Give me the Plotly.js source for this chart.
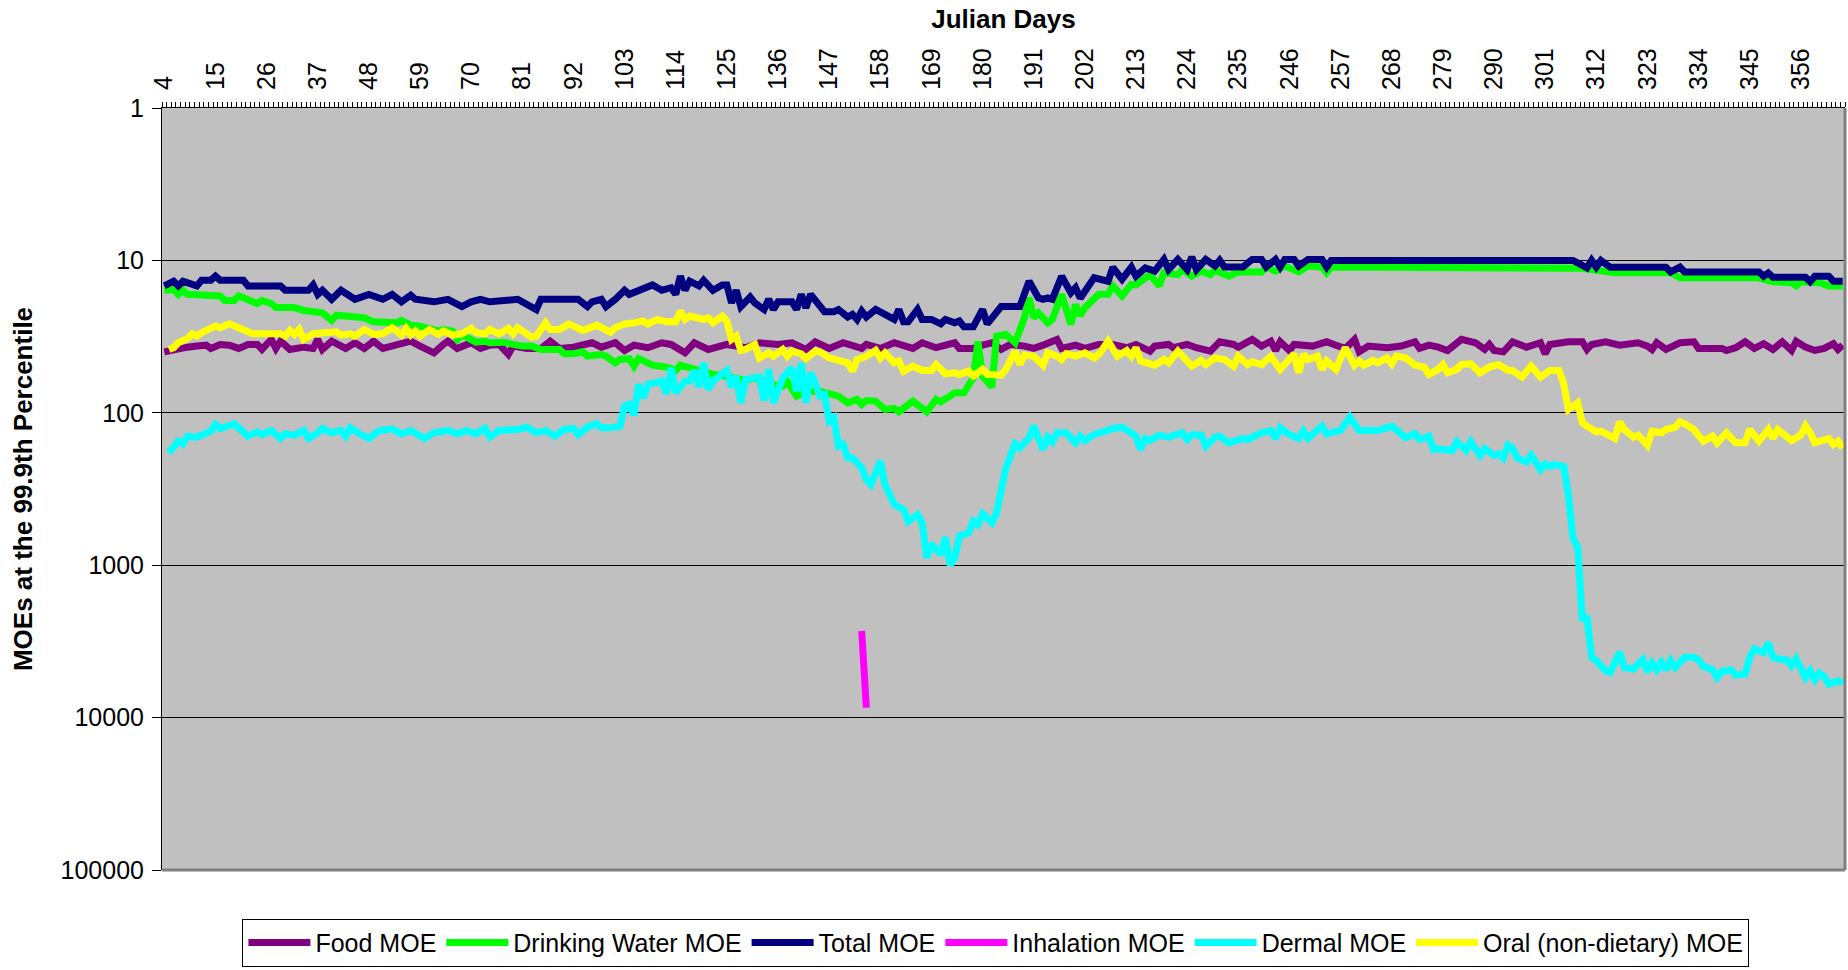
<!DOCTYPE html>
<html>
<head>
<meta charset="utf-8">
<script src="https://cdn.plot.ly/plotly-3.0.1.min.js"></script>
<style>html,body{margin:0;padding:0;background:#fff;}#chart{width:1848px;height:970px;}</style>
</head>
<body>
<div id="chart"></div>
<script>
// [Julian day, MOE] pairs
const foodMOE = [[4,39.8],[6,38.4],[9,37.1],[11,36.5],[13,36.0],[14,37.8],[16,35.6],[18,36.0],[20,37.8],[22,35.6],[24,35.6],[25,38.4],[27,33.0],[28,37.8],[29,33.9],[31,38.4],[34,37.1],[36,37.8],[37,33.0],[38,38.4],[40,33.9],[43,37.8],[45,34.7],[47,37.8],[49,33.9],[51,37.8],[54,36.0],[57,33.9],[59,36.5],[62,40.4],[64,35.6],[65,33.9],[67,37.8],[70,34.7],[72,37.8],[74,36.0],[76,35.6],[78,41.4],[79,36.5],[82,37.8],[85,37.8],[87,33.9],[89,37.8],[92,37.1],[96,34.7],[98,37.1],[101,34.7],[103,39.0],[105,36.0],[108,37.4],[111,34.7],[113,35.6],[116,40.4],[118,34.7],[121,38.4],[125,35.6],[129,37.4],[132,34.7],[136,35.6],[139,34.7],[142,38.4],[144,34.2],[147,37.8],[150,34.7],[154,37.8],[155,35.6],[158,37.8],[161,34.7],[165,37.8],[167,34.7],[170,37.4],[174,34.7],[175,37.8],[178,37.8],[180,36.0],[182,34.7],[184,38.4],[186,35.6],[189,36.5],[191,37.8],[193,36.0],[196,33.0],[197,37.8],[200,36.0],[202,37.8],[205,35.6],[208,35.6],[211,37.4],[213,35.6],[216,39.4],[217,36.5],[220,35.6],[221,37.4],[224,35.6],[226,37.4],[229,39.4],[231,34.2],[234,35.6],[235,37.1],[238,33.0],[240,36.5],[242,33.9],[243,39.0],[244,34.2],[246,39.0],[247,35.6],[251,36.5],[254,34.2],[256,36.0],[258,37.8],[260,33.0],[261,39.8],[263,36.5],[267,37.4],[270,36.5],[273,34.2],[274,37.8],[276,36.0],[278,37.1],[280,39.0],[283,33.0],[286,34.7],[288,38.4],[289,35.6],[290,39.0],[292,39.8],[294,34.2],[297,37.1],[300,34.7],[301,41.0],[302,35.6],[306,34.2],[309,34.2],[310,38.4],[311,35.6],[314,34.2],[317,36.0],[321,34.7],[323,36.5],[324,38.4],[325,34.7],[327,38.4],[330,34.7],[333,34.2],[334,37.8],[339,37.8],[340,39.0],[342,37.4],[344,34.2],[346,37.8],[348,35.2],[350,38.4],[352,34.2],[354,39.0],[355,33.9],[357,37.1],[359,39.0],[361,37.8],[363,35.2],[364,38.4],[365,36.0]];

const drinkingWaterMOE = [[4,15.7],[6,15.5],[7,16.7],[8,15.7],[9,16.7],[16,17.1],[17,18.3],[19,18.3],[20,17.1],[22,18.3],[24,19.2],[25,18.3],[27,19.2],[28,20.4],[32,20.4],[34,21.3],[37,21.5],[38,22.1],[40,24.8],[41,22.9],[43,23.2],[45,23.6],[47,23.8],[49,25.3],[52,25.3],[54,25.7],[55,24.8],[57,26.6],[59,27.0],[61,28.4],[63,29.1],[64,28.4],[66,29.1],[67,33.0],[68,30.9],[69,31.9],[71,34.4],[73,33.9],[74,34.7],[77,34.4],[78,35.2],[79,35.6],[81,36.5],[83,36.5],[85,38.4],[89,38.4],[90,41.0],[92,41.0],[94,39.8],[95,42.5],[98,41.5],[99,42.5],[101,47.0],[102,44.7],[104,44.2],[105,49.4],[106,44.0],[109,48.7],[112,50.1],[114,52.7],[115,48.7],[118,51.9],[119,53.8],[122,56.0],[125,57.5],[129,61.3],[131,58.9],[134,65.2],[137,66.8],[138,62.6],[140,77.7],[142,72.1],[145,72.1],[148,75.8],[149,77.7],[151,86.0],[153,81.7],[154,88.2],[155,83.0],[157,83.8],[159,95.1],[161,93.7],[162,98.5],[165,83.8],[168,98.5],[170,81.7],[171,84.7],[173,77.7],[174,73.9],[176,73.9],[178,58.9],[179,34.0],[180,57.5],[182,67.8],[183,31.4],[185,30.6],[186,33.0],[187,34.7],[189,23.8],[190,17.6],[191,23.8],[192,22.1],[194,25.7],[195,24.4],[197,16.7],[199,26.3],[200,19.5],[201,23.0],[202,20.45],[204,17.6],[205,16.7],[207,16.7],[208,14.7],[210,17.1],[212,14.4],[213,14.5],[216,12.4],[218,14.7],[219,12.05],[222,12.4],[223,11.5],[225,12.7],[227,11.75],[229,12.4],[230,11.6],[233,12.7],[235,11.9],[240,11.9],[241,11.06],[243,11.75],[245,10.9],[248,11.9],[250,10.9],[253,11.06],[254,12.05],[255,11.06],[308,11.06],[309,11.28],[316,12.05],[328,12.05],[330,13.0],[347,13.0],[350,13.8],[354,14.0],[355,14.7],[356,13.8],[360,14.0],[362,14.7],[365,14.7]];

const totalMOE = [[4,14.7],[6,13.7],[7,14.7],[8,13.7],[11,14.7],[12,13.5],[14,13.5],[15,12.7],[16,13.5],[21,13.5],[22,14.7],[29,14.7],[30,15.7],[35,15.7],[36,14.5],[37,16.7],[38,15.7],[40,18.0],[42,15.7],[45,18.0],[48,16.7],[51,18.0],[53,16.7],[55,18.7],[57,16.9],[58,18.0],[62,18.7],[65,18.0],[68,20.1],[70,18.7],[72,18.0],[74,18.7],[80,18.0],[82,19.5],[84,21.0],[85,18.0],[93,18.0],[95,20.1],[96,18.7],[98,18.0],[99,20.1],[101,18.0],[103,15.7],[104,16.7],[106,15.7],[109,14.5],[111,15.7],[113,15.1],[114,16.7],[115,12.7],[116,15.7],[117,13.7],[119,14.7],[120,13.5],[122,15.7],[124,14.5],[125,14.5],[126,19.0],[127,15.7],[128,20.1],[130,17.4],[131,19.0],[133,21.0],[134,18.0],[135,21.0],[136,18.7],[139,18.7],[140,21.0],[141,16.7],[142,20.5],[143,16.7],[146,21.7],[148,21.7],[149,21.0],[151,23.5],[152,22.6],[153,24.4],[154,21.5],[155,23.5],[157,21.0],[159,22.6],[161,24.4],[162,21.0],[163,25.3],[164,25.3],[166,21.0],[167,24.4],[169,24.4],[171,26.1],[172,24.4],[174,25.7],[175,25.0],[176,27.3],[178,27.3],[180,21.0],[181,26.1],[184,20.1],[188,20.1],[190,13.7],[192,17.6],[193,18.0],[194,17.6],[195,18.0],[197,12.7],[199,16.3],[200,15.1],[201,17.7],[202,15.9],[204,13.0],[207,13.7],[208,11.1],[210,13.3],[212,11.1],[213,12.7],[215,11.2],[217,11.75],[219,9.85],[220,11.5],[222,9.85],[224,11.5],[225,9.5],[226,11.5],[228,9.85],[230,10.9],[231,10.0],[232,11.06],[236,11.06],[238,9.85],[240,9.85],[241,11.06],[243,9.85],[244,11.06],[245,9.85],[247,9.85],[248,10.9],[250,9.85],[253,9.85],[254,11.06],[255,10.0],[307,10.0],[310,11.2],[311,10.0],[312,11.06],[313,10.0],[315,11.1],[327,11.1],[328,11.9],[330,11.06],[331,11.9],[347,11.9],[348,12.7],[349,12.1],[350,12.9],[357,12.9],[358,13.8],[359,12.7],[362,12.7],[363,13.7],[365,13.7]];

const inhalationMOE = [[154,2700],[155,8600]];

const dermalMOE = [[5,183],[7,153.5],[8,160],[9,142.3],[11,144.5],[13,133.3],[14,131.9],[15,119.3],[16,126.7],[19,118.1],[20,125.5],[22,142.3],[24,133.3],[25,138.8],[27,130.6],[29,147.4],[30,137.4],[32,140.2],[34,130.6],[35,147.4],[37,135.3],[38,126.7],[40,135.3],[42,130.6],[43,142.3],[44,125.5],[46,137.4],[48,147.4],[50,131.9],[53,127.4],[55,137.4],[57,130.6],[60,147.4],[62,135.3],[65,130.6],[67,137.4],[69,130.6],[71,137.4],[73,126.7],[74,144.5],[76,130.6],[80,128.7],[82,124.2],[84,135.3],[86,130.6],[88,142.3],[90,128.7],[92,126.7],[93,138.8],[95,124.2],[97,118.1],[98,125.5],[100,125.5],[102,122.3],[103,89.8],[104,88.0],[105,103.6],[106,65.2],[107,79.7],[108,65.2],[111,61.9],[112,75.0],[113,50.7],[114,73.9],[116,62.0],[117,61.9],[118,52.7],[119,67.8],[120,47.0],[121,70.3],[122,61.9],[125,52.7],[126,67.8],[127,57.5],[128,86.0],[129,60.4],[132,58.3],[133,83.0],[134,51.9],[135,86.0],[137,58.9],[139,50.7],[140,72.1],[141,47.0],[142,86.0],[143,54.6],[144,63.5],[145,77.7],[146,75.8],[147,113.4],[148,107.8],[149,165.5],[150,161.4],[151,197.4],[152,197.4],[154,229.6],[155,274.0],[156,295.5],[158,207.6],[159,295.5],[161,399.9],[163,431.1],[164,514.4],[166,465.0],[167,527.5],[168,895],[169,724],[171,851],[172,655],[173,1000],[174,895],[175,645],[177,613],[178,514],[179,541],[180,460],[182,527],[183,453],[185,230],[187,159.8],[188,169.8],[190,145.9],[191,122.3],[193,174.1],[194,144.5],[195,155.0],[196,135.3],[198,135.3],[200,157.4],[201,142.3],[202,151.9],[204,138.8],[206,133.3],[208,126.7],[210,124.2],[213,142.3],[214,174.1],[215,147.4],[216,151.9],[218,140.2],[220,144.5],[223,135.3],[224,149.6],[225,138.8],[227,140.2],[228,165.5],[230,144.5],[231,142.3],[233,157.4],[236,147.4],[237,149.6],[240,135.3],[242,130.6],[243,147.4],[244,125.5],[246,138.8],[248,147.4],[249,131.9],[250,147.4],[253,122.3],[254,137.4],[257,130.6],[259,106.8],[261,130.6],[265,130.6],[268,122.3],[271,145.9],[273,137.4],[274,149.6],[276,142.3],[277,174.1],[278,172],[281,177],[282,155],[284,177],[285,155],[287,190],[288,172],[290,190],[291,186],[292,198],[293,163],[294,170],[295,198],[297,210],[298,190],[300,236],[301,217],[302,225],[303,219],[305,225],[306,346],[307,667],[308,757],[309,2305],[310,2158],[311,4021],[312,4230],[314,4923],[315,5050],[317,3727],[318,4680],[320,4800],[322,4166],[323,5000],[324,4383],[325,4849],[326,4339],[327,4849],[328,4230],[329,4680],[331,4021],[333,4021],[334,4166],[335,4610],[337,4849],[338,5449],[339,5000],[341,4849],[342,5260],[344,5180],[345,4021],[346,3544],[348,3727],[349,3235],[350,4021],[352,4166],[353,4166],[354,4563],[355,4124],[357,5449],[358,4923],[359,5645],[360,5102],[361,5367],[362,6029],[363,5878],[364,5731],[365,5938]];

const oralMOE = [[5,38.4],[6,37.4],[7,34.7],[9,32.5],[10,30.3],[11,31.4],[12,29.8],[15,27.0],[16,27.7],[18,26.1],[20,27.7],[21,28.4],[23,30.3],[29,30.3],[30,31.4],[31,28.8],[32,30.6],[33,28.4],[34,33.0],[36,30.3],[41,29.4],[42,30.9],[44,30.3],[45,31.4],[47,28.4],[49,30.6],[51,30.3],[53,27.7],[55,30.9],[56,27.95],[57,30.9],[58,29.1],[59,31.4],[61,28.4],[63,30.6],[64,29.1],[66,30.9],[68,30.3],[70,27.95],[71,29.8],[73,30.3],[74,28.4],[76,30.3],[78,27.95],[79,30.3],[80,27.7],[83,31.9],[84,31.4],[86,25.7],[87,28.4],[89,28.4],[91,26.1],[93,27.95],[94,28.8],[97,26.6],[100,29.6],[101,27.7],[103,26.1],[105,25.7],[107,25.0],[108,26.1],[109,25.3],[110,24.4],[112,25.3],[114,25.3],[115,21.5],[116,24.4],[117,23.2],[119,23.8],[120,24.4],[121,23.8],[122,25.7],[124,23.2],[125,25.0],[126,33.0],[127,31.4],[128,39.0],[129,38.4],[131,35.6],[132,43.6],[134,40.4],[135,42.5],[137,38.4],[138,42.5],[139,39.4],[141,41.0],[142,44.0],[144,39.4],[145,39.8],[147,43.6],[149,45.3],[151,47.0],[152,53.3],[153,44.7],[155,42.5],[157,38.9],[158,43.6],[159,40.4],[161,47.0],[162,45.8],[163,53.3],[165,49.4],[167,52.7],[169,52.7],[170,48.2],[172,55.5],[174,54.6],[175,56.0],[177,53.3],[178,57.5],[180,51.9],[181,56.0],[184,56.6],[185,51.9],[187,39.4],[188,48.2],[189,41.8],[191,42.5],[193,48.7],[194,40.4],[196,42.5],[197,44.7],[198,41.0],[200,42.5],[202,40.4],[204,43.6],[205,41.4],[207,33.9],[209,42.5],[211,39.0],[212,42.5],[213,37.4],[214,45.8],[217,48.7],[219,44.7],[220,47.0],[222,39.4],[224,47.0],[225,49.4],[227,45.3],[228,48.2],[230,43.6],[232,44.7],[234,49.4],[235,42.5],[237,48.2],[238,46.3],[240,48.2],[242,42.5],[244,51.9],[245,48.2],[247,41.0],[248,54.6],[249,41.4],[250,44.7],[252,42.5],[253,51.9],[254,45.8],[256,51.9],[258,37.4],[260,48.7],[261,45.8],[262,48.7],[264,45.3],[265,47.0],[267,43.6],[268,47.7],[269,42.5],[271,43.6],[273,48.7],[275,50.1],[276,56.0],[278,51.9],[279,48.2],[280,54.6],[282,51.9],[283,48.2],[285,47.7],[287,54.6],[289,50.1],[291,48.2],[293,52.7],[294,52.7],[296,58.3],[298,49.4],[300,58.3],[302,52.7],[304,52.7],[305,64.8],[306,95.1],[308,86.0],[309,116.3],[310,122.3],[312,133.3],[313,131.9],[316,147.4],[317,114.6],[318,128.7],[320,144.5],[321,140.2],[323,163.1],[324,131.9],[326,135.3],[327,128.7],[329,124.2],[330,114.6],[331,118.1],[333,128.7],[335,153.5],[337,142.3],[338,157.4],[340,135.3],[342,157.4],[344,157.4],[345,128.7],[347,153.5],[349,128.7],[350,147.4],[351,128.7],[352,135.3],[354,151.9],[356,140.2],[357,122.3],[358,135.3],[359,157.4],[362,147.4],[363,161.4],[364,153.5],[365,170.0]];

const seriesNames = ['Food MOE','Drinking Water MOE','Total MOE','Inhalation MOE','Dermal MOE','Oral (non-dietary) MOE'];
const seriesData = [foodMOE, drinkingWaterMOE, totalMOE, inhalationMOE, dermalMOE, oralMOE];
const seriesColors = ['#800080','#00FF00','#000080','#FF00FF','#00FFFF','#FFFF00'];
const yTickVals = [1,10,100,1000,10000,100000];
const yTickText = ['1','10','100','1000','10000','100000'];

const traces = seriesData.map((d, i) => ({
  type: 'scatter', mode: 'lines', name: seriesNames[i],
  x: d.map(p => p[0]), y: d.map(p => p[1]),
  line: {color: seriesColors[i], width: 7},
  hoverinfo: 'x+y+name'
}));

const FONT = 'Liberation Sans, Arial, sans-serif';
const layout = {
  width: 1848, height: 970,
  paper_bgcolor: '#FFFFFF', plot_bgcolor: '#C0C0C0',
  margin: {l: 162, r: 3, t: 108, b: 98, pad: 0},
  font: {family: FONT, size: 25, color: '#000000'},
  showlegend: true,
  legend: {orientation: 'h', x: 0.4955, xanchor: 'center', y: -0.064, yanchor: 'top',
           bgcolor: '#FFFFFF', bordercolor: '#000000', borderwidth: 1,
           font: {family: FONT, size: 25, color: '#000000'}, itemwidth: 62, traceorder: 'normal'},
  xaxis: {
    side: 'top', type: 'linear', range: [3.5, 365.5], autorange: false,
    tickmode: 'linear', tick0: 4, dtick: 11, tickangle: -90,
    ticks: '', ticklabelstandoff: 12,
    tickfont: {family: FONT, size: 25, color: '#000000'},
    showgrid: false, zeroline: false,
    showline: true, linecolor: '#000000', linewidth: 1,
    minor: {tickmode: 'linear', tick0: 3.5, dtick: 1, ticks: 'outside', ticklen: 5, tickcolor: '#000000', tickwidth: 1, showgrid: false},
    title: {text: 'Julian Days', font: {family: FONT, size: 26, weight: 'bold', color: '#000000'}, standoff: 12}
  },
  yaxis: {
    type: 'log', range: [5, 0], autorange: false,
    tickmode: 'array', tickvals: yTickVals, ticktext: yTickText,
    ticks: 'outside', ticklen: 9, tickcolor: '#000000', tickwidth: 1, ticklabelstandoff: 3,
    tickfont: {family: FONT, size: 25, color: '#000000'},
    showgrid: true, gridcolor: '#000000', gridwidth: 1,
    showline: true, linecolor: '#000000', linewidth: 1, zeroline: false,
    title: {text: 'MOEs at the 99.9th Percentile', font: {family: FONT, size: 26, weight: 'bold', color: '#000000'}, standoff: 20}
  },
  shapes: [
    {type: 'line', xref: 'paper', yref: 'paper', x0: 0, x1: 1, y0: 0, y1: 0, line: {color: '#808080', width: 3}, layer: 'above'},
    {type: 'line', xref: 'paper', yref: 'paper', x0: 1, x1: 1, y0: 0, y1: 1, line: {color: '#808080', width: 3}, layer: 'above'}
  ]
};

Plotly.newPlot('chart', traces, layout, {displayModeBar: false, staticPlot: true});
</script>
</body>
</html>
